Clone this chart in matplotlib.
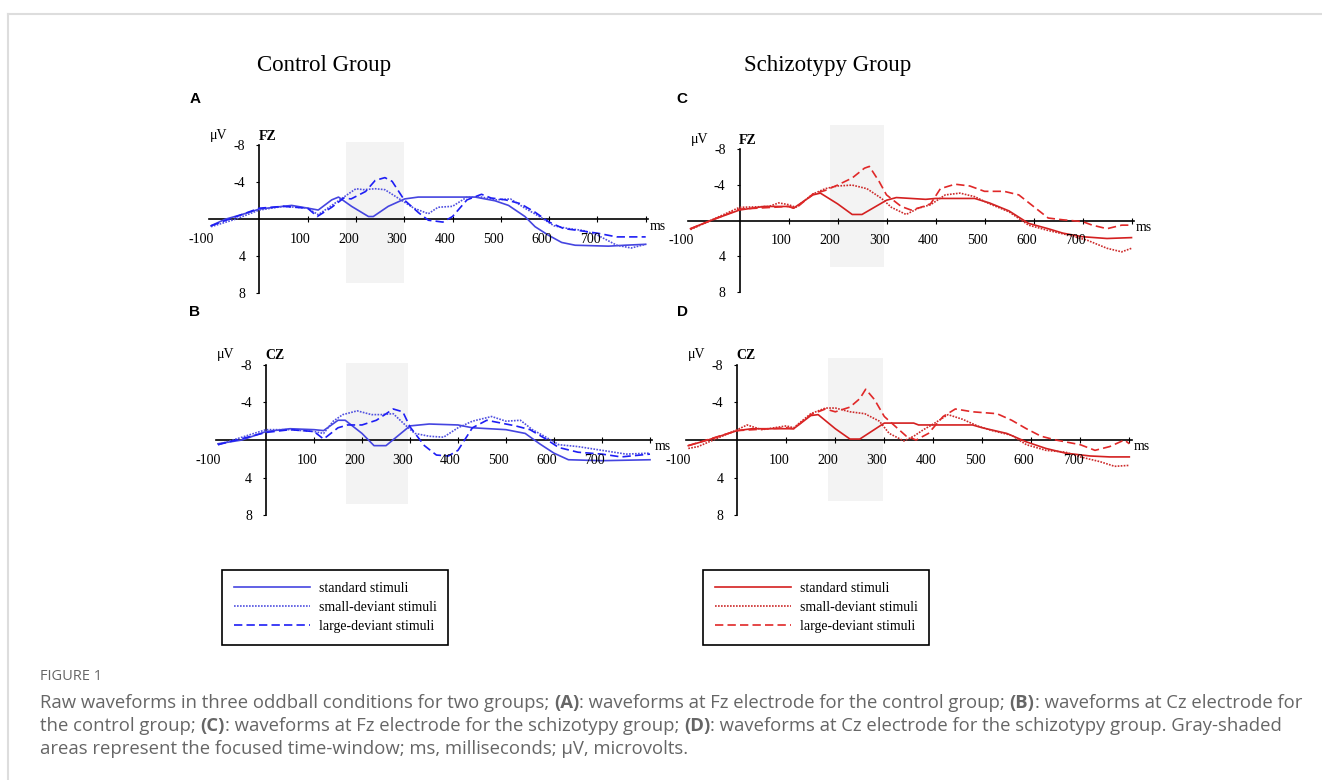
import matplotlib
matplotlib.use("Agg")
import matplotlib.pyplot as plt
from matplotlib.lines import Line2D
from matplotlib.transforms import offset_copy

W, H = 1322, 780

# ---- waveform data (ms, microvolts; negative is drawn up) ----
ctrl_fz_std_ms = [-100, -71, -37, 0, 32, 67, 101, 122, 150, 164, 191, 226, 236, 267, 301, 329, 378, 447, 488, 516, 550, 571, 598, 626, 654, 723, 757, 800]
ctrl_fz_std_uv = [0.7, 0.0, -0.5, -1.1, -1.3, -1.5, -1.2, -1.0, -2.1, -2.4, -1.4, -0.3, -0.3, -1.4, -2.2, -2.4, -2.4, -2.4, -2.0, -1.5, -0.3, 0.8, 1.7, 2.5, 2.8, 2.9, 2.8, 2.7]
ctrl_fz_small_ms = [-100, -50, 0, 50, 100, 122, 150, 175, 200, 215, 240, 260, 290, 320, 350, 370, 400, 430, 460, 490, 520, 550, 580, 610, 640, 670, 700, 740, 770, 800]
ctrl_fz_small_uv = [0.8, 0.0, -1.0, -1.4, -1.2, -0.5, -1.5, -2.4, -3.3, -3.2, -3.3, -3.2, -2.2, -1.2, -0.6, -1.3, -1.4, -2.4, -2.4, -2.1, -2.2, -1.2, -0.3, 0.7, 1.0, 1.2, 1.7, 2.8, 3.1, 2.7]
ctrl_fz_large_ms = [-100, 0, 50, 100, 120, 150, 175, 190, 220, 240, 260, 275, 300, 330, 350, 380, 400, 430, 460, 480, 510, 540, 570, 600, 630, 660, 700, 740, 800]
ctrl_fz_large_uv = [0.7, -1.2, -1.4, -1.2, -0.3, -1.3, -2.3, -2.2, -3.0, -4.2, -4.5, -4.1, -2.1, -0.7, 0.1, 0.3, -0.3, -2.1, -2.7, -2.3, -2.1, -1.7, -0.8, 0.3, 1.0, 1.2, 1.5, 1.9, 1.9]

ctrl_cz_std_ms = [-100, -50, 0, 50, 100, 120, 150, 165, 200, 225, 250, 300, 340, 400, 430, 500, 540, 570, 600, 630, 700, 800]
ctrl_cz_std_uv = [0.4, 0.0, -0.9, -1.2, -1.1, -1.0, -2.1, -2.1, -0.7, 0.6, 0.6, -1.5, -1.7, -1.6, -1.3, -1.1, -0.7, 0.4, 1.4, 2.1, 2.2, 2.1]
ctrl_cz_small_ms = [-100, 0, 50, 100, 120, 140, 160, 190, 220, 240, 265, 290, 310, 340, 370, 400, 430, 470, 500, 530, 555, 580, 610, 650, 700, 750, 800]
ctrl_cz_small_uv = [0.5, -1.1, -1.1, -0.9, -0.7, -2.0, -2.7, -3.1, -2.7, -2.7, -2.8, -1.6, -0.7, -0.4, -0.3, -1.3, -2.0, -2.5, -2.0, -2.1, -1.1, -0.4, 0.5, 0.7, 1.1, 1.5, 1.4]
ctrl_cz_large_ms = [-100, 0, 50, 100, 120, 150, 170, 200, 230, 265, 285, 300, 330, 355, 380, 400, 430, 460, 490, 520, 550, 580, 610, 650, 700, 740, 800]
ctrl_cz_large_uv = [0.5, -0.8, -1.1, -0.9, -0.1, -1.3, -1.6, -1.6, -2.1, -3.3, -3.0, -1.4, 0.6, 1.6, 1.7, 1.1, -1.3, -2.1, -1.8, -1.5, -1.1, -0.2, 0.8, 1.3, 1.5, 1.8, 1.5]

schz_fz_std_ms = [-100, -60, 0, 50, 100, 110, 150, 165, 200, 230, 250, 300, 320, 380, 400, 480, 510, 550, 590, 630, 660, 700, 750, 800]
schz_fz_std_uv = [0.9, 0.0, -1.2, -1.6, -1.6, -1.4, -2.9, -3.1, -1.9, -0.7, -0.7, -2.3, -2.6, -2.4, -2.5, -2.5, -2.0, -1.1, 0.3, 0.9, 1.4, 1.8, 2.0, 1.9]
schz_fz_small_ms = [-100, 0, 60, 80, 100, 115, 150, 175, 200, 230, 260, 290, 310, 340, 365, 390, 420, 450, 480, 510, 550, 590, 630, 670, 710, 750, 780, 800]
schz_fz_small_uv = [1.0, -1.5, -1.6, -2.0, -1.8, -1.5, -3.0, -3.6, -3.9, -4.0, -3.6, -2.5, -1.5, -0.7, -1.4, -1.8, -2.9, -3.1, -2.7, -1.9, -1.0, 0.5, 1.1, 1.6, 2.2, 3.1, 3.5, 3.1]
schz_fz_large_ms = [-100, 0, 100, 115, 150, 175, 200, 230, 255, 265, 285, 300, 330, 350, 370, 390, 410, 440, 470, 500, 540, 570, 600, 630, 660, 700, 720, 750, 780, 800]
schz_fz_large_uv = [0.9, -1.3, -1.6, -1.4, -3.0, -3.4, -4.0, -4.8, -5.9, -6.1, -4.4, -2.9, -1.6, -1.2, -1.5, -1.9, -3.6, -4.1, -3.9, -3.3, -3.3, -2.9, -1.6, -0.3, -0.1, 0.1, 0.5, 0.9, 0.5, 0.5]

schz_cz_std_ms = [-100, -60, 0, 30, 100, 115, 150, 165, 200, 230, 250, 300, 360, 370, 480, 500, 550, 590, 630, 670, 720, 760, 800]
schz_cz_std_uv = [0.6, 0.0, -1.0, -1.2, -1.2, -1.2, -2.6, -2.7, -1.2, -0.1, -0.1, -1.8, -1.8, -1.6, -1.6, -1.3, -0.7, 0.2, 0.9, 1.4, 1.7, 1.8, 1.8]
schz_cz_small_ms = [-100, -80, 0, 20, 50, 100, 115, 150, 180, 200, 230, 260, 290, 310, 340, 360, 380, 400, 430, 460, 490, 520, 560, 590, 630, 670, 700, 740, 770, 800]
schz_cz_small_uv = [0.9, 0.7, -1.1, -1.6, -1.1, -1.5, -1.3, -2.8, -3.4, -3.4, -3.0, -2.8, -2.0, -0.7, 0.1, -0.4, -1.1, -1.7, -2.7, -2.2, -1.5, -1.0, -0.5, 0.5, 1.1, 1.3, 1.8, 2.3, 2.8, 2.7]
schz_cz_large_ms = [-100, 0, 100, 115, 150, 180, 200, 230, 250, 262, 280, 300, 330, 345, 365, 390, 420, 445, 480, 530, 560, 590, 620, 650, 700, 730, 760, 790, 800]
schz_cz_large_uv = [0.6, -1.0, -1.3, -1.2, -2.7, -3.3, -3.0, -3.5, -4.4, -5.4, -4.3, -2.5, -1.1, -0.4, 0.0, -0.7, -2.5, -3.3, -3.0, -2.8, -2.1, -1.2, -0.4, 0.0, 0.5, 1.1, 0.7, 0.0, 0.4]

# gray time-window per panel: (start ms, end ms, top uV, bottom uV)
shade_a = [180, 300, -8.4, 6.9]
shade_b = [167, 295, -8.2, 6.8]
shade_c = [184, 295, -10.7, 5.2]
shade_d = [186, 298, -8.7, 6.5]

x_ticks = [-100, 100, 200, 300, 400, 500, 600, 700]
x_tick_labels = ["-100", "100", "200", "300", "400", "500", "600", "700"]
y_ticks = [-8, -4, 4, 8]
y_tick_labels = ["-8", "-4", "4", "8"]
legend_labels = ["standard stimuli", "small-deviant stimuli", "large-deviant stimuli"]

SERIF = "Liberation Serif"
BLUE = ["#4545e0", "#5050e0", "#1e1ef5"]
RED = ["#d42020", "#cc2a2a", "#e02828"]
STYLES = ["-", (0, (1, 0.8)), (0, (5, 2.5))]

fig = plt.figure(figsize=(W / 100, H / 100), dpi=100)


def panel(x0, y0, px_ms, px_uv, site, series, colors, shade):
    xlo, xhi, ylo, yhi = -130, 850, -11.5, 9.5
    left, right = x0 + xlo * px_ms, x0 + xhi * px_ms
    top, bottom = y0 + ylo * px_uv, y0 + yhi * px_uv
    ax = fig.add_axes([left / W, 1 - bottom / H, (right - left) / W, (bottom - top) / H])
    ax.set_xlim(xlo, xhi)
    ax.set_ylim(yhi, ylo)
    ax.patch.set_alpha(0)

    ax.fill_between([shade[0], shade[1]], shade[2], shade[3], color="#f3f3f3", lw=0, zorder=0)

    lines = []
    for (t, v), c, ls in zip(series, colors, STYLES):
        ln, = ax.plot(t, v, color=c, ls=ls, lw=1.2, zorder=3)
        lines.append(ln)

    for s in ["top", "right"]:
        ax.spines[s].set_visible(False)
    ax.spines["left"].set_position(("data", 0))
    ax.spines["left"].set_bounds(-8, 8)
    ax.spines["bottom"].set_position(("data", 0))
    ax.spines["bottom"].set_bounds(-105, 805)
    for s in ["left", "bottom"]:
        ax.spines[s].set_linewidth(1.2)
        ax.spines[s].set_zorder(2)

    ax.set_xticks(range(100, 801, 100))
    ax.set_xticklabels([])
    ax.tick_params(axis="x", direction="inout", length=4, width=0.8)
    ax.set_yticks(y_ticks)
    ax.set_yticklabels(y_tick_labels, family=SERIF, fontsize=10)
    ax.tick_params(axis="y", direction="out", length=2, width=0.8, pad=8)

    lab_tr = offset_copy(ax.transData, fig, x=3, y=-20, units="dots")
    for t, lab in zip(x_ticks, x_tick_labels):
        ax.text(t, 0, lab, transform=lab_tr, ha="right", va="center", family=SERIF, fontsize=10)
    ax.text(805, 0, "ms", transform=offset_copy(ax.transData, fig, x=2, y=-7, units="dots"),
            ha="left", va="center", family=SERIF, fontsize=10)
    ax.text(0, -8, "\u03bcV", transform=offset_copy(ax.transData, fig, x=-49, y=10, units="dots"),
            ha="left", va="center", family=SERIF, fontsize=10)
    ax.text(0, -8, site, transform=offset_copy(ax.transData, fig, x=-1, y=9, units="dots"),
            ha="left", va="center", family=SERIF, fontsize=10, fontweight="bold")
    return lines


lines_a = panel(259.3, 219.3, 0.483, 9.26, "FZ",
                [(ctrl_fz_std_ms, ctrl_fz_std_uv), (ctrl_fz_small_ms, ctrl_fz_small_uv), (ctrl_fz_large_ms, ctrl_fz_large_uv)],
                BLUE, shade_a)
panel(266, 440, 0.48, 9.4, "CZ",
      [(ctrl_cz_std_ms, ctrl_cz_std_uv), (ctrl_cz_small_ms, ctrl_cz_small_uv), (ctrl_cz_large_ms, ctrl_cz_large_uv)],
      BLUE, shade_b)
lines_c = panel(739.5, 220.7, 0.49, 8.9, "FZ",
                [(schz_fz_std_ms, schz_fz_std_uv), (schz_fz_small_ms, schz_fz_small_uv), (schz_fz_large_ms, schz_fz_large_uv)],
                RED, shade_c)
panel(737.3, 440, 0.49, 9.4, "CZ",
      [(schz_cz_std_ms, schz_cz_std_uv), (schz_cz_small_ms, schz_cz_small_uv), (schz_cz_large_ms, schz_cz_large_uv)],
      RED, shade_d)

# group titles and panel letters
fig.text(324 / W, 1 - 65 / H, "Control Group", family=SERIF, fontsize=16.5, ha="center", va="center")
fig.text(828 / W, 1 - 65 / H, "Schizotypy Group", family=SERIF, fontsize=16.5, ha="center", va="center")
for letter, (px, py) in zip("ABCD", [(195, 99), (195, 312), (682, 99), (682, 312)]):
    fig.text(px / W, 1 - py / H, letter, family="Liberation Sans", fontweight="bold", fontsize=11,
             ha="center", va="center")

# legends
for handles, x_left in [(lines_a, 222), (lines_c, 703)]:
    leg = fig.legend(handles, legend_labels, loc="upper left", bbox_to_anchor=(x_left / W, 1 - 570 / H),
                     frameon=True, fancybox=False, edgecolor="black", framealpha=1,
                     borderaxespad=0, prop={"family": SERIF, "size": 10}, handlelength=5.5,
                     labelspacing=0.45, borderpad=0.85, handletextpad=0.6)
    leg.get_frame().set_linewidth(1.2)

# card border
fig.add_artist(Line2D([8 / W, 1], [1 - 14 / H, 1 - 14 / H], transform=fig.transFigure, color="#dddddd", lw=1.5))
fig.add_artist(Line2D([8 / W, 8 / W], [0, 1 - 14 / H], transform=fig.transFigure, color="#dddddd", lw=1.5))

# caption
CAP = "Open Sans"
CAP_COLOR = "#666666"
fig.text(40 / W, 1 - 677 / H, "FIGURE 1", family=CAP, fontsize=10.5, color=CAP_COLOR, va="center")
caption_lines = [
    [("Raw waveforms in three oddball conditions for two groups; ", False), ("(A)", True),
     (": waveforms at Fz electrode for the control group; ", False), ("(B)", True),
     (": waveforms at Cz electrode for", False)],
    [("the control group; ", False), ("(C)", True),
     (": waveforms at Fz electrode for the schizotypy group; ", False), ("(D)", True),
     (": waveforms at Cz electrode for the schizotypy group. Gray-shaded", False)],
    [("areas represent the focused time-window; ms, milliseconds; \u03bcV, microvolts.", False)],
]
renderer = fig.canvas.get_renderer()
for i, pieces in enumerate(caption_lines):
    x = 40
    y = 703 + i * 23
    for txt, bold in pieces:
        t = fig.text(x / W, 1 - y / H, txt, family=CAP, fontsize=13.3, color=CAP_COLOR,
                     fontweight="bold" if bold else "normal", va="center")
        bb = t.get_window_extent(renderer=renderer)
        x = bb.x1

fig.savefig("out.png", dpi=100)
